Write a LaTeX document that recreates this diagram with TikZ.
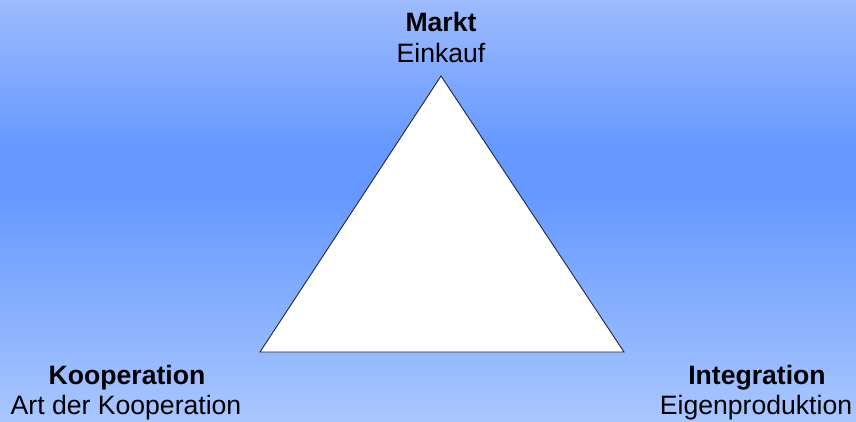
\documentclass[tikz,border=0pt]{standalone}
\usepackage{fontspec}
\setmainfont{Liberation Sans}
\definecolor{bgtop}{HTML}{9DBBFD}
\definecolor{bgmid}{HTML}{6699FF}
\definecolor{bgbot}{HTML}{A9C6FF}
\tikzset{
  lbl/.style={anchor=base, inner sep=0pt, font=\fontsize{26.6}{30}\selectfont},
  lblb/.style={lbl, font=\fontsize{26.6}{30}\selectfont\bfseries},
  tri/.style={draw=black!85, fill=white, line width=0.9pt, line join=miter}
}
\begin{document}
\begin{tikzpicture}[x=1pt,y=-1pt]
\useasboundingbox (0,0) rectangle (856,421);
\shade[top color=bgtop, bottom color=bgmid] (0,0) rectangle (856,145);
\fill[bgmid] (0,144.5) rectangle (856,195.5);
\shade[top color=bgmid, bottom color=bgbot] (0,195) rectangle (856,421);
\coordinate (apex) at (441,76);
\coordinate (bl) at (260,352);
\coordinate (br) at (624,352);
\draw[tri] (apex) -- (bl) -- (br) -- cycle;
\node[lblb] (markt) at (441,31) {Markt};
\node[lbl] (einkauf) at (441,62) {Einkauf};
\node[lblb] (koop) at (127,384) {Kooperation};
\node[lbl] (art) at (126,414) {Art der Kooperation};
\node[lblb] (integ) at (757,384) {Integration};
\node[lbl] (eigen) at (756,414) {Eigenproduktion};
\end{tikzpicture}
\end{document}
